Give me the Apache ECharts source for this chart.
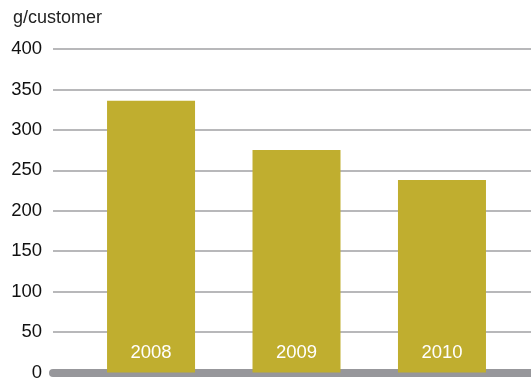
<!DOCTYPE html>
<html>
<head>
<meta charset="utf-8">
<script src="https://cdn.jsdelivr.net/npm/echarts@6/dist/echarts.min.js"></script>
<style>
  html, body { margin: 0; padding: 0; background: #fff; }
  #chart { width: 531px; height: 382px; }
</style>
</head>
<body>
<div id="chart"></div>
<script>
// Yearly amount per customer
const years = ['2008', '2009', '2010'];
const gramsPerCustomer = [336, 275, 238];
const yTicks = [0, 50, 100, 150, 200, 250, 300, 350, 400];
const unitLabel = 'g/customer';

const chart = echarts.init(document.getElementById('chart'), null, { renderer: 'canvas' });

chart.setOption({
  animation: false,
  title: {
    text: unitLabel,
    left: 8,
    top: 4,
    textStyle: { fontFamily: 'Liberation Sans', fontSize: 18, fontWeight: 'normal', color: '#222' }
  },
  grid: { left: 53, right: 0, top: 49, bottom: 6, containLabel: false },
  xAxis: {
    type: 'value',
    min: -0.674,
    max: 2.612,
    axisTick: { show: false },
    axisLabel: { show: false },
    splitLine: { show: false },
    axisLine: { show: true, onZero: false, lineStyle: { color: '#97979b', width: 8, cap: 'round' } }
  },
  yAxis: {
    type: 'value',
    min: yTicks[0],
    max: yTicks[yTicks.length - 1],
    interval: yTicks[1] - yTicks[0],
    axisLine: { show: false },
    axisTick: { show: false },
    axisLabel: { color: '#111', fontFamily: 'Liberation Sans', fontSize: 18.5, margin: 11 },
    splitLine: { lineStyle: { color: '#a0a0a3', width: 1.5 } }
  },
  series: [{
    type: 'bar',
    barWidth: 88,
    z: 1,
    itemStyle: { color: '#c0ae2f' },
    data: gramsPerCustomer.map((v, i) => [i, v]),
    label: {
      show: true,
      position: 'insideBottom',
      distance: 10,
      color: '#fff',
      fontFamily: 'Liberation Sans',
      fontSize: 18.5,
      formatter: p => years[p.dataIndex]
    }
  }]
});
</script>
</body>
</html>
